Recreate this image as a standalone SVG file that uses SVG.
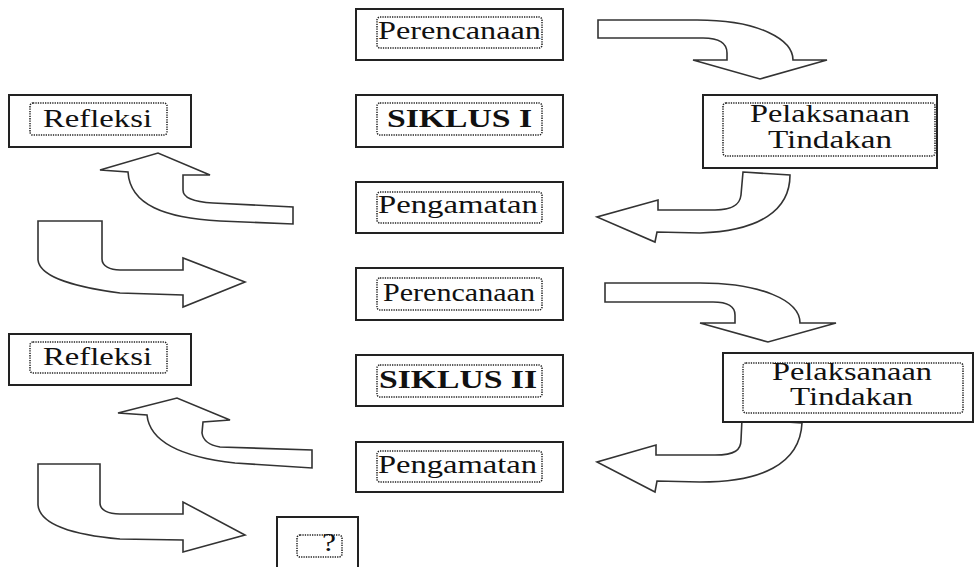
<svg xmlns="http://www.w3.org/2000/svg" width="975" height="567" viewBox="0 0 975 567">
<style>
.box{fill:#fff;stroke:#222;stroke-width:2}
.in{fill:none;stroke:#222;stroke-width:1.5;stroke-dasharray:1.3 1.1}
.t{font-family:"Liberation Serif","Times New Roman",serif;font-size:25px;fill:#111}
.b{font-weight:bold}
.arr{fill:#fff;stroke:#333;stroke-width:1.6;stroke-linejoin:miter}
</style>
<rect width="975" height="567" fill="#fff"/>
<g id="connectors">
<path class="arr" d="M598,20 L697,20 C760,20 793,40 793,60 L827,60 L760,79 L693,60 L727,60 L727,53 C727,43 718,38 703,38 L598,38 Z"/>
<path class="arr" d="M743,172 L790,175 C790,210 760,231 700,233 L657,232 L655,242 L597,217 L658,200 L658,210 L715,210 C735,210 740,203 741,195 Z"/>
<path class="arr" d="M100,170 L158,153 L210,175 L183,175 L183,190 C183,198 195,202 213,203 L293,207 L293,224 L220,221 C165,218 130,205 128,172 Z"/>
<path class="arr" d="M38,221 L102,221 L102,259 C102,266 110,270 120,270 L183,270 L183,258 L245,282 L183,307 L183,295 L120,293 C80,288 40,278 38,260 Z"/>
<path class="arr" d="M605,283 L700,283 C760,283 800,300 800,323 L836,323 L768,342 L700,323 L735,323 L735,315 C735,306 728,302 713,302 L605,302 Z"/>
<path class="arr" d="M742,419 L802,423 C800,465 760,482 700,482 L657,481 L655,492 L597,462 L656,445 L656,455 L715,455 C735,455 741,450 741,440 Z"/>
<path class="arr" d="M118,413 L177,398 L230,420 L203,422 L202,433 C203,440 208,445 220,447 L312,450 L312,468 L235,463 C190,458 150,445 147,415 Z"/>
<path class="arr" d="M38,464 L100,464 L100,503 C100,510 108,514 120,514 L183,514 L183,502 L245,535 L183,552 L183,540 L120,539 C75,535 40,525 38,505 Z"/>
</g>
<g id="perencanaan1">
<rect class="box" x="356" y="9" width="207" height="51"/>
<rect class="in" x="377" y="17" width="165" height="31" rx="3"/>
<text class="t" x="378" y="39" textLength="163" lengthAdjust="spacingAndGlyphs">Perencanaan</text>
</g>
<g id="siklus1">
<rect class="box" x="356" y="95" width="207" height="52"/>
<rect class="in" x="377" y="103" width="165" height="32" rx="3"/>
<text class="t b" x="387" y="127" textLength="145" lengthAdjust="spacingAndGlyphs">SIKLUS I</text>
</g>
<g id="pengamatan1">
<rect class="box" x="356" y="182" width="207" height="51"/>
<rect class="in" x="377" y="192" width="165" height="31" rx="3"/>
<text class="t" x="378" y="213" textLength="160" lengthAdjust="spacingAndGlyphs">Pengamatan</text>
</g>
<g id="pelaksanaan1">
<rect class="box" x="703" y="95" width="234" height="73"/>
<rect class="in" x="723" y="103" width="212" height="53" rx="3"/>
<text class="t" x="750" y="122" textLength="160" lengthAdjust="spacingAndGlyphs">Pelaksanaan</text>
<text class="t" x="768" y="148" textLength="124" lengthAdjust="spacingAndGlyphs">Tindakan</text>
</g>
<g id="refleksi1">
<rect class="box" x="9" y="95" width="182" height="52"/>
<rect class="in" x="30" y="103" width="137" height="32" rx="3"/>
<text class="t" x="43" y="127" textLength="109" lengthAdjust="spacingAndGlyphs">Refleksi</text>
</g>
<g id="perencanaan2">
<rect class="box" x="356" y="268" width="207" height="52"/>
<rect class="in" x="377" y="278" width="165" height="32" rx="3"/>
<text class="t" x="383" y="301" textLength="152" lengthAdjust="spacingAndGlyphs">Perencanaan</text>
</g>
<g id="siklus2">
<rect class="box" x="356" y="355" width="207" height="51"/>
<rect class="in" x="377" y="365" width="165" height="32" rx="3"/>
<text class="t b" x="379" y="388" textLength="158" lengthAdjust="spacingAndGlyphs">SIKLUS II</text>
</g>
<g id="pengamatan2">
<rect class="box" x="356" y="442" width="207" height="50"/>
<rect class="in" x="377" y="451" width="165" height="31" rx="3"/>
<text class="t" x="378" y="473" textLength="159" lengthAdjust="spacingAndGlyphs">Pengamatan</text>
</g>
<g id="pelaksanaan2">
<rect class="box" x="723" y="353" width="250" height="69"/>
<rect class="in" x="743" y="363" width="220" height="50" rx="3"/>
<text class="t" x="772" y="380" textLength="160" lengthAdjust="spacingAndGlyphs">Pelaksanaan</text>
<text class="t" x="790" y="405" textLength="123" lengthAdjust="spacingAndGlyphs">Tindakan</text>
</g>
<g id="refleksi2">
<rect class="box" x="9" y="334" width="182" height="51"/>
<rect class="in" x="30" y="342" width="137" height="31" rx="3"/>
<text class="t" x="43" y="365" textLength="109" lengthAdjust="spacingAndGlyphs">Refleksi</text>
</g>
<g id="question">
<rect class="box" x="277" y="517" width="81" height="52"/>
<rect class="in" x="297" y="535" width="45" height="22" rx="3"/>
<text class="t" x="322" y="551" font-size="22" textLength="14" lengthAdjust="spacingAndGlyphs">?</text>
</g>
</svg>
